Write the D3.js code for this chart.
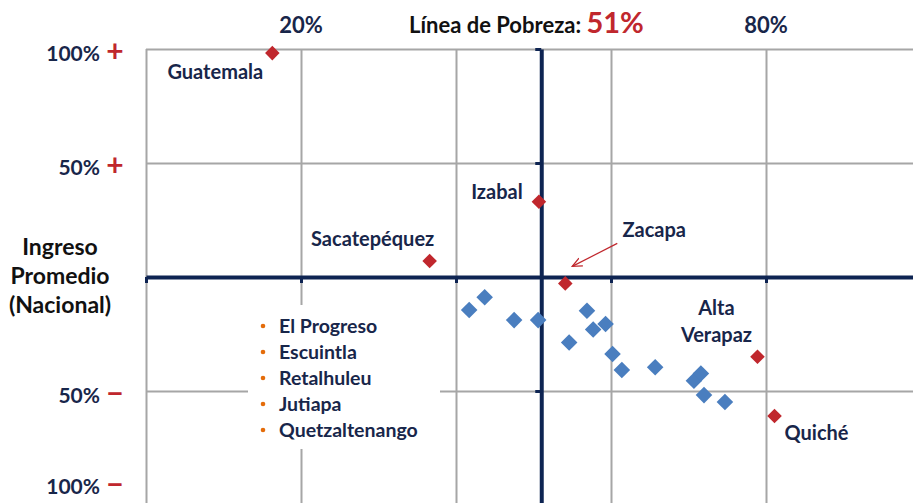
<!DOCTYPE html>
<html>
<head>
<meta charset="utf-8">
<script src="https://cdn.jsdelivr.net/npm/d3@7"></script>
<style>
  body { margin: 0; background: #fff; }
  svg { display: block; font-family: Lato, "Open Sans", sans-serif; font-weight: bold; }
</style>
</head>
<body>
<div class="wrapper"></div>
<script>
var width = 913,
    height = 503;

// pobreza (%) on x, ingreso relativo al promedio nacional (%) on y
var povertyLine = 51;
var xTickValues = [0, 20, 40, 60, 80, 100];
var xTickLabels = ["20%", "80%"];
var xTickLabelValues = [20, 80];
var yTickValues = [100, 50, -50, -100];
var yTickLabels = ["100%", "50%", "50%", "100%"];
var yTickSigns = ["+", "+", "\u2212", "\u2212"];

var redNames = ["Guatemala", "Sacatepéquez", "Izabal", "Zacapa", "Alta Verapaz", "Quiché"];
var redX = [16.3, 36.6, 50.7, 54.1, 78.9, 81.1];
var redY = [98.2, 7.0, 33.0, -2.8, -35.0, -61.0];

var blueX = [41.7, 43.7, 47.5, 50.6, 54.6, 56.9, 57.7, 59.3, 60.2, 61.4, 65.7, 70.7, 71.6, 72.0, 74.7];
var blueY = [-14.5, -8.9, -18.9, -18.9, -28.7, -14.8, -23.0, -20.6, -33.8, -40.8, -39.6, -45.5, -42.3, -51.8, -54.8];

var listItems = ["El Progreso", "Escuintla", "Retalhuleu", "Jutiapa", "Quetzaltenango"];

var navy = "#18264a", axisNavy = "#0e2452", red = "#c0272d", blue = "#4a7ebf", grid = "#a6a6a6";

var x = d3.scaleLinear().domain([0, 100]).range([146, 921]);
var y = d3.scaleLinear().domain([-100, 100]).range([505, 49]);

var svg = d3.select(".wrapper").append("svg")
    .attr("width", width)
    .attr("height", height);

// grid
svg.append("g")
    .attr("transform", "translate(0," + y(100) + ")")
    .call(d3.axisTop(x).tickValues(xTickValues).tickSize(-(y(-100) - y(100))).tickFormat(""))
    .call(function(g) { g.select(".domain").remove(); })
    .selectAll("line").attr("stroke", grid).attr("stroke-width", 2);

svg.append("g")
    .attr("transform", "translate(" + x(0) + ",0)")
    .call(d3.axisLeft(y).tickValues([100, 50, -50, -100]).tickSize(-(x(100) - x(0))).tickFormat(""))
    .call(function(g) { g.select(".domain").remove(); })
    .selectAll("line").attr("stroke", grid).attr("stroke-width", 2);

// white box behind the list
var listX = 263, listY = 326, listStep = 26;
svg.append("rect")
    .attr("x", 248).attr("y", 305)
    .attr("width", 192).attr("height", 144)
    .attr("fill", "#fff");

// thick axes crossing at 0 / poverty line
var hAxis = svg.append("g")
    .attr("transform", "translate(0," + y(0) + ")")
    .call(d3.axisBottom(x).tickValues(xTickValues).tickSize(6).tickSizeOuter(0).tickFormat(""));
hAxis.select(".domain").attr("stroke", axisNavy).attr("stroke-width", 4);
hAxis.selectAll("line").attr("stroke", axisNavy).attr("stroke-width", 3);

var vAxis = svg.append("g")
    .attr("transform", "translate(" + x(povertyLine) + ",0)")
    .call(d3.axisLeft(y).tickValues(yTickValues).tickSize(6).tickSizeOuter(0).tickFormat(""));
vAxis.select(".domain").attr("stroke", axisNavy).attr("stroke-width", 4);
vAxis.selectAll("line").attr("stroke", axisNavy).attr("stroke-width", 3);

// top labels
svg.selectAll(".xlab")
    .data(xTickLabelValues)
  .enter().append("text")
    .attr("x", function(d) { return x(d); })
    .attr("y", 33)
    .attr("text-anchor", "middle")
    .attr("font-size", 22)
    .attr("fill", navy)
    .text(function(d, i) { return xTickLabels[i]; });

var title = svg.append("text")
    .attr("x", 409).attr("y", 33)
    .attr("font-size", 22)
    .attr("fill", "#111");
title.append("tspan").text("Línea de Pobreza: ");
title.append("tspan").attr("font-size", 29).attr("fill", red).text(povertyLine + "%");

// left labels (the lowest one is pulled up to stay inside the picture)
function yLabelPos(d) { return Math.min(y(d) + 12, height - 9); }

svg.selectAll(".ylab")
    .data(yTickValues)
  .enter().append("text")
    .attr("x", 100)
    .attr("y", yLabelPos)
    .attr("text-anchor", "end")
    .attr("font-size", 21)
    .attr("fill", navy)
    .text(function(d, i) { return yTickLabels[i]; });

svg.selectAll(".ysign")
    .data(yTickValues)
  .enter().append("text")
    .attr("x", 115)
    .attr("y", function(d) { return yLabelPos(d) + 1; })
    .attr("text-anchor", "middle")
    .attr("font-size", 30)
    .attr("fill", red)
    .text(function(d, i) { return yTickSigns[i]; });

var yTitle = svg.append("text")
    .attr("text-anchor", "middle")
    .attr("font-size", 23)
    .attr("fill", "#111");
["Ingreso", "Promedio", "(Nacional)"].forEach(function(t, i) {
  yTitle.append("tspan").attr("x", 60).attr("y", 255 + i * 29).text(t);
});

// points
var diamond = d3.symbol().type(d3.symbolDiamond2);

svg.selectAll(".blue")
    .data(blueX)
  .enter().append("path")
    .attr("d", diamond.size(175))
    .attr("transform", function(d, i) { return "translate(" + x(d) + "," + y(blueY[i]) + ")"; })
    .attr("fill", blue);

svg.selectAll(".red")
    .data(redX)
  .enter().append("path")
    .attr("d", diamond.size(135))
    .attr("transform", function(d, i) { return "translate(" + x(d) + "," + y(redY[i]) + ")"; })
    .attr("fill", red);

// point labels (offsets from each red point)
var labelOffsets = [
  { dx: -57, dy: 26, lines: ["Guatemala"] },
  { dx: -57, dy: -15, lines: ["Sacatepéquez"] },
  { dx: -42, dy: -3, lines: ["Izabal"] },
  { dx: 89, dy: -46, lines: ["Zacapa"] },
  { dx: -41, dy: -42, lines: ["Alta", "Verapaz"] },
  { dx: 42, dy: 24, lines: ["Quiché"] }
];

redNames.forEach(function(name, i) {
  var o = labelOffsets[i];
  var t = svg.append("text")
      .attr("text-anchor", "middle")
      .attr("font-size", 20)
      .attr("fill", navy);
  o.lines.forEach(function(line, j) {
    t.append("tspan")
        .attr("x", x(redX[i]) + o.dx)
        .attr("y", y(redY[i]) + o.dy + j * 27)
        .text(line);
  });
});

// arrow to Zacapa
svg.append("defs").append("marker")
    .attr("id", "arr")
    .attr("viewBox", "0 0 10 10")
    .attr("refX", 9).attr("refY", 5)
    .attr("markerWidth", 9).attr("markerHeight", 9)
    .attr("orient", "auto")
  .append("path")
    .attr("d", "M0,1 L9,5 L0,9")
    .attr("fill", "none")
    .attr("stroke", red)
    .attr("stroke-width", 1.2);

var zi = redNames.indexOf("Zacapa");
svg.append("line")
    .attr("x1", x(redX[zi]) + 52).attr("y1", y(redY[zi]) - 40)
    .attr("x2", x(redX[zi]) + 7).attr("y2", y(redY[zi]) - 17)
    .attr("stroke", red)
    .attr("stroke-width", 1.2)
    .attr("marker-end", "url(#arr)");

// list
var list = svg.selectAll(".item")
    .data(listItems)
  .enter().append("g")
    .attr("transform", function(d, i) { return "translate(" + listX + "," + (listY + i * listStep) + ")"; });
list.append("circle")
    .attr("cx", 0).attr("cy", 0).attr("r", 2.3)
    .attr("fill", "#e46c0a");
list.append("text")
    .attr("x", 16).attr("y", 7)
    .attr("font-size", 19.5)
    .attr("fill", navy)
    .text(function(d) { return d; });
</script>
</body>
</html>
